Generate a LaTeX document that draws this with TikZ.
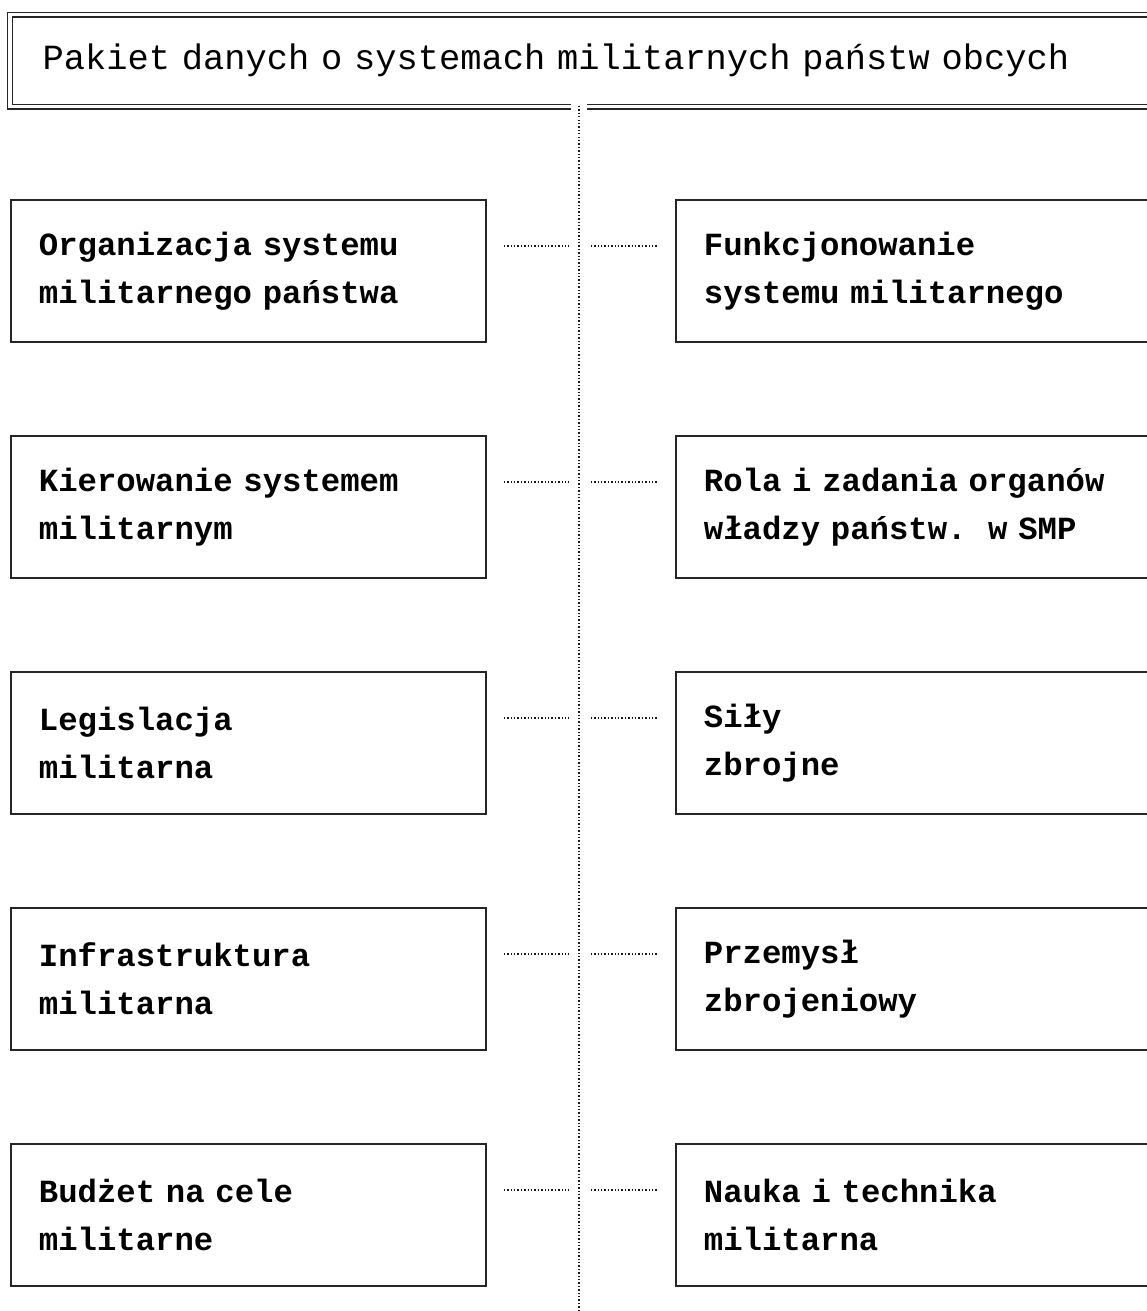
\documentclass[tikz,border=0pt]{standalone}
\usepackage{fontspec}
\newfontfamily\titlefont{Liberation Mono}
\newfontfamily\boxfont{Liberation Mono}
\usetikzlibrary{calc}
\begin{document}
\begin{tikzpicture}[x=1pt,y=-1pt,
  ink/.style={draw=black!85},
  titlebox/.style={ink, double, double distance=3.5pt, line width=1.2pt, anchor=north west,
    minimum height=92pt, text width=1095pt, inner xsep=32.5pt, inner ysep=0pt, align=left,
    font=\titlefont\fontsize{35.4}{38}\selectfont\frenchspacing},
  leftbox/.style={ink, line width=1.8pt, anchor=north west, minimum height=142pt,
    text width=419pt, inner xsep=28pt, inner ysep=0pt, align=left,
    font=\boxfont\bfseries\fontsize{32.3}{48}\selectfont\frenchspacing},
  rightbox/.style={leftbox, text width=429pt},
  dotline/.style={draw=black!90, line width=1.6pt, dash pattern=on 1.3pt off 2.1pt}
]
\useasboundingbox (0,0) rectangle (1147,1311);
\fill[white] (0,0) rectangle (1147,1311);

\node[titlebox] (title) at (9.5,14) {Pakiet danych o systemach militarnych państw obcych};
\fill[white] (571,100) rectangle (587,112);

\coordinate (spinetop) at (579,106);
\coordinate (spinebot) at (579,1311);
\draw[dotline] (spinetop) -- (spinebot);

\node[leftbox] (L1) at (10,199) {Organizacja systemu\\militarnego państwa};
\node[rightbox] (R1) at (675,199) {Funkcjonowanie\\systemu militarnego};
\node[leftbox] (L2) at (10,435) {Kierowanie systemem\\militarnym};
\node[rightbox] (R2) at (675,435) {Rola i zadania organów\\władzy państw.~~w SMP};
\node[leftbox] (L3) at (10,671) {Legislacja\\militarna};
\node[rightbox] (R3) at (675,671) {Siły\\zbrojne};
\node[leftbox] (L4) at (10,907) {Infrastruktura\\militarna};
\node[rightbox] (R4) at (675,907) {Przemysł\\zbrojeniowy};
\node[leftbox] (L5) at (10,1143) {Budżet na cele\\militarne};
\node[rightbox] (R5) at (675,1143) {Nauka i technika\\militarna};

\foreach \i in {1,...,5}{
  \coordinate (s\i) at ($(L\i.north east)+(94,47)$);
  \draw[dotline] ($(L\i.north east)+(17,47)$) -- ($(s\i)+(-12,0)$);
  \draw[dotline] ($(s\i)+(10,0)$) -- ($(R\i.north west)+(-18,47)$);
}
\end{tikzpicture}
\end{document}
